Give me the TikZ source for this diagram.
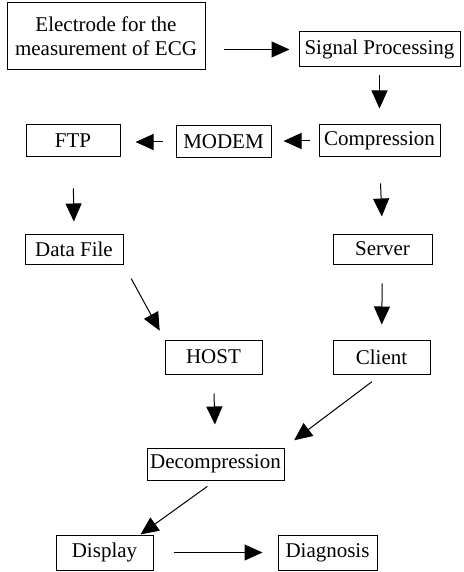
\documentclass[tikz,border=0pt]{standalone}
\usepackage{fontspec}
\setmainfont{Liberation Serif}
\usetikzlibrary{positioning,arrows.meta,calc}

\begin{document}
\begin{tikzpicture}[x=1pt, y=-1pt,
		font=\fontsize{21}{24}\selectfont,
		box/.style={draw, line width=1pt, align=center, inner sep=0pt,
				minimum height=32pt},
		arr/.style={-{Triangle[length=18pt, width=16pt]}, line width=1pt}
		]
		\useasboundingbox (0,0) rectangle (463,572);
		\node[box, minimum width=198pt, minimum height=67pt] (ecg) at (106,36.5)
		{Electrode for the\\measurement of ECG};
		\node[box, minimum width=161pt, minimum height=35pt] (sig) at (379.5,49.5)
		{Signal Processing};
		\node[box, minimum width=94pt] (ftp) at (73,141) {FTP};
		\node[box, minimum width=95pt] (modem) at (223.5,142) {MODEM};
		\node[box, minimum width=121pt] (comp) at (379.5,141) {Compression};
		\node[box, minimum width=98pt, minimum height=30pt] (data) at (74,249) {Data File};
		\node[box, minimum width=99pt, minimum height=30pt] (server) at (382.5,249) {Server};
		\node[box, minimum width=97pt, minimum height=34pt] (host) at (213.5,357) {HOST};
		\node[box, minimum width=97pt, minimum height=34pt] (client) at (381.5,357) {Client};
		\node[box, minimum width=137pt] (decomp) at (215.5,464) {Decompression};
		\node[box, minimum width=97pt, minimum height=35pt] (disp) at (104.5,552.5) {Display};
		\node[box, minimum width=99pt, minimum height=35pt] (diag) at (327.5,552.5) {Diagnosis};
		\draw[arr, shorten <=18pt, shorten >=9pt] (ecg.east |- sig.west) -- (sig.west);
		\draw[arr, shorten <=8pt, shorten >=16pt] (sig.south) -- (comp.north);
		\draw[arr, shorten <=9pt, shorten >=12pt] (comp.west) -- (comp.west -| modem.east);
		\draw[arr, shorten <=13pt, shorten >=15pt] (modem.west) -- (modem.west -| ftp.east);
		\draw[arr, shorten <=31pt, shorten >=12pt] (ftp.south) -- (data.north);
		\draw[arr, shorten <=26pt, shorten >=17pt] (comp.south) -- (server.north);
		\draw[arr, shorten <=16pt, shorten >=10pt] (data.south east) -- (host.north west);
		\draw[arr, shorten <=19pt, shorten >=15pt] (server.south) -- (client.north);
		\draw[arr, shorten <=19pt, shorten >=23pt] (host.south) -- (decomp.north);
		\draw[arr, shorten <=12pt, shorten >=12pt] (client.south) -- (decomp.north east);
		\draw[arr, shorten <=10pt] (decomp.south) -- ([xshift=36pt]disp.north);
		\draw[arr, shorten <=20pt, shorten >=15pt] (disp.east) -- (diag.west);
	\end{tikzpicture}
\end{document}
